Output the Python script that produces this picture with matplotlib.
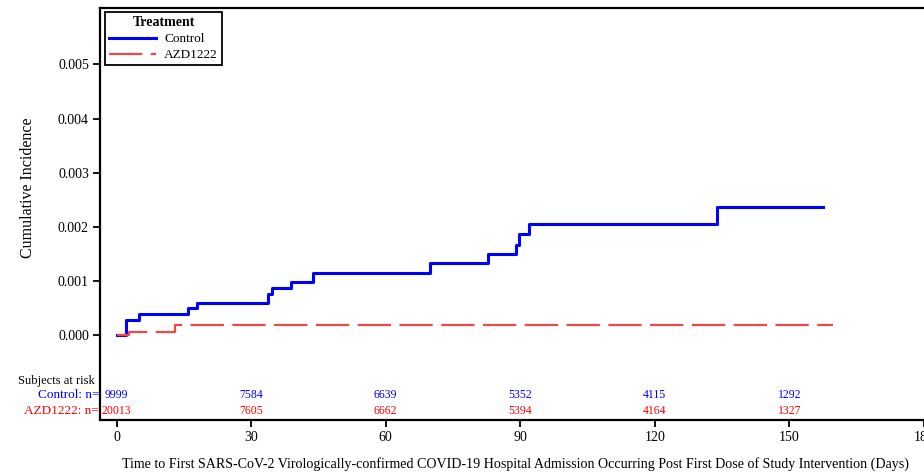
import matplotlib
matplotlib.use("Agg")
import matplotlib.pyplot as plt

plt.rcParams['font.family'] = ['Liberation Serif', 'DejaVu Serif']

# ---- data ----
ctrl_days = [0, 2.1, 5.0, 15.9, 17.9, 33.7, 34.6, 38.9, 43.8, 69.8, 82.7, 89.0, 89.7, 92.0, 133.9, 157.5]
ctrl_cum = [0, 0.00029, 0.00040, 0.00050, 0.00060, 0.00077, 0.00088, 0.00099, 0.00115,
            0.00134, 0.00150, 0.00166, 0.00187, 0.00206, 0.00237, 0.00237]
azd_days = [0, 2.7, 13.0, 159.7]
azd_cum = [0, 0.00006, 0.00019, 0.00019]

risk_days = [0, 30, 60, 90, 120, 150]
risk_ctrl = ["9999", "7584", "6639", "5352", "4115", "1292"]
risk_azd = ["20013", "7605", "6662", "5394", "4164", "1327"]

xticks = [0, 30, 60, 90, 120, 150, 180]
yticks = [0.000, 0.001, 0.002, 0.003, 0.004, 0.005]

W, H = 924, 473
fig = plt.figure(figsize=(W / 100, H / 100), dpi=100)
ax = fig.add_axes([100 / W, 53 / H, 835 / W, 412 / H])

blue = '#0000ff'
red_line = '#f04848'
red_txt = '#ff0000'

ax.plot(ctrl_days, ctrl_cum, drawstyle='steps-post', color=blue, lw=2.2, label='Control')
l2, = ax.plot(azd_days, azd_cum, drawstyle='steps-post', color=red_line, lw=1.6, label='AZD1222')
l2.set_dashes([15, 3.8])

ax.set_xlim(-3.72, 182.5)
ax.set_ylim(-0.00156, 0.00604)
ax.set_xticks(xticks)
ax.set_xticklabels([str(t) for t in xticks], fontsize=10)
ax.set_yticks(yticks)
ax.set_yticklabels([f"{t:.3f}" for t in yticks], fontsize=10)
ax.tick_params(direction='out', length=5, width=1.3, pad=3)

for s in ['left', 'bottom', 'top']:
    ax.spines[s].set_linewidth(1.6)
ax.spines['right'].set_visible(False)

# at-risk numbers
for d, c, a in zip(risk_days, risk_ctrl, risk_azd):
    ax.text(d, -0.00110, c, color=blue, fontsize=8.5, ha='center', va='center')
    ax.text(d, -0.00140, a, color=red_txt, fontsize=8.5, ha='center', va='center')

fig.text(95 / W, 1 - 381 / H, "Subjects at risk", fontsize=9, ha='right', va='center', color='black')
fig.text(99 / W, 1 - 395 / H, "Control: n=", fontsize=9.5, ha='right', va='center', color=blue)
fig.text(99 / W, 1 - 411 / H, "AZD1222: n=", fontsize=9.5, ha='right', va='center', color=red_txt)

fig.text(28 / W, 1 - 188 / H, "Cumulative Incidence", rotation=90, fontsize=11.5, ha='center', va='center')
fig.text(515 / W, 1 - 464 / H,
         "Time to First SARS-CoV-2 Virologically-confirmed COVID-19 Hospital Admission Occurring Post First Dose of Study Intervention (Days)",
         fontsize=10.1, ha='center', va='center')

leg = ax.legend(loc='upper left', bbox_to_anchor=(5 / 835, 1 - 4 / 412), borderaxespad=0,
                title='Treatment', fontsize=9.5, handlelength=3.6, fancybox=False,
                edgecolor='black', framealpha=1, borderpad=0.3, labelspacing=0.3,
                handletextpad=0.6, title_fontproperties={'size': 10, 'weight': 'bold'})
leg.get_frame().set_linewidth(1.3)

fig.savefig('out.png', dpi=100)
